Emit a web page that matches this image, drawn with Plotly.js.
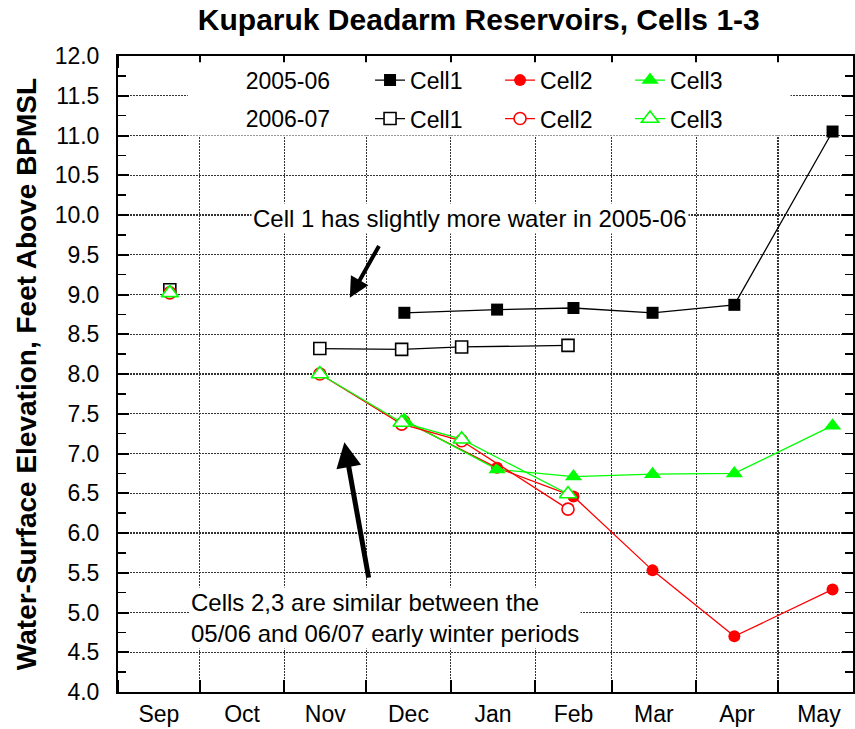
<!DOCTYPE html>
<html>
<head>
<meta charset="utf-8">
<script src="https://cdn.plot.ly/plotly-3.0.1.min.js"></script>
<style>html,body{margin:0;padding:0;background:#fff}#chart{width:855px;height:729px}</style>
</head>
<body>
<div id="chart"></div>
<script>
// ---- data ----
// 2005-06 season sampling dates
const dates0506 = ['2005-12-15', '2006-01-18', '2006-02-15', '2006-03-16', '2006-04-15', '2006-05-21'];
const cell1_0506 = [8.77, 8.81, 8.83, 8.77, 8.87, 11.05];
const cell2_0506 = [7.41, 6.82, 6.46, 5.53, 4.70, 5.29];
const cell3_0506 = [7.42, 6.80, 6.71, 6.74, 6.75, 7.35];

// 2006-07 season sampling dates (no October reading -> gap)
const dates0607 = ['2006-09-20', '2006-10-15', '2006-11-14', '2006-12-14', '2007-01-05', '2007-02-13'];
const cell1_0607 = [9.06, null, 8.32, 8.31, 8.34, 8.36];
const cell2_0607 = [9.02, null, 8.00, 7.37, 7.16, 6.30];
const cell3_0607 = [9.02, null, 8.00, 7.39, 7.18, 6.49];

const seasonLabels = ['2005-06', '2006-07'];
const cellNames = ['Cell1', 'Cell2', 'Cell3'];
const monthAxisRange = ['2005-09-01', '2006-05-28 12:00'];

// overlay the 2006-07 season on the Sep-May axis of 2005-06
function overlay(d) { return (parseInt(d.slice(0, 4), 10) - 1) + d.slice(4); }

const FONT = 'Arial, "Liberation Sans", sans-serif';
const BLACK = '#000000', RED = '#ff0000', GREEN = '#00ff00';

function tr(x, y, name, color, symbol, filled, legend) {
  return {
    type: 'scatter', mode: 'lines+markers', x: x, y: y, name: name,
    legend: legend, connectgaps: false,
    line: {color: color, width: 1.3},
    marker: {
      symbol: symbol, size: symbol.indexOf('triangle') === 0 ? 15 : 12,
      color: filled ? color : '#ffffff',
      line: {color: color, width: filled ? 0 : 1.6}
    }
  };
}
const x0607 = dates0607.map(overlay);
const data = [
  tr(dates0506, cell1_0506, cellNames[0], BLACK, 'square', true, 'legend'),
  tr(dates0506, cell2_0506, cellNames[1], RED, 'circle', true, 'legend'),
  tr(dates0506, cell3_0506, cellNames[2], GREEN, 'triangle-up', true, 'legend'),
  tr(x0607, cell1_0607, cellNames[0], BLACK, 'square', false, 'legend2'),
  tr(x0607, cell2_0607, cellNames[1], RED, 'circle', false, 'legend2'),
  tr(x0607, cell3_0607, cellNames[2], GREEN, 'triangle-up', false, 'legend2')
];

const PAD = '&nbsp;&nbsp;&nbsp;&nbsp;&nbsp;';
const legendCommon = {
  orientation: 'h', xanchor: 'left', yanchor: 'middle', x: 0.171,
  bgcolor: 'rgba(255,255,255,0)', borderwidth: 0,
  font: {family: FONT, size: 23, color: BLACK},
  entrywidth: 85, entrywidthmode: 'pixels', itemwidth: 30,
  tracegroupgap: 0
};

const GRID = {showgrid: true, gridcolor: '#333333', gridwidth: 1.2, griddash: '2px,1px'};

const layout = {
  width: 855, height: 729,
  margin: {l: 118, r: 2, t: 56, b: 37, pad: 0},
  paper_bgcolor: '#ffffff', plot_bgcolor: '#ffffff',
  font: {family: FONT, size: 23, color: BLACK},
  showlegend: true,
  title: {
    text: 'Kuparuk Deadarm Reservoirs, Cells 1-3',
    font: {family: FONT, size: 30, weight: 'bold', color: BLACK},
    xref: 'container', x: 0.56, xanchor: 'center',
    yref: 'container', y: 0.973, yanchor: 'middle'
  },
  xaxis: Object.assign({
    type: 'date', range: monthAxisRange, autorange: false,
    tick0: '2005-09-01', dtick: 'M1', tickformat: '%b', ticklabelmode: 'period',
    ticks: 'inside', ticklen: 12, tickwidth: 2, tickcolor: BLACK,
    showline: true, linewidth: 2, linecolor: BLACK, mirror: 'ticks',
    zeroline: false, ticklabelstandoff: 0,
    tickfont: {family: FONT, size: 23, color: BLACK}
  }, GRID),
  yaxis: Object.assign({
    range: [4, 12], autorange: false, tick0: 4, dtick: 0.5, tickformat: '.1f',
    ticks: 'inside', ticklen: 11, tickwidth: 2, tickcolor: BLACK,
    showline: true, linewidth: 2, linecolor: BLACK, mirror: 'ticks',
    zeroline: false, ticklabelstandoff: 12,
    minor: {dtick: 0.25, ticks: 'inside', ticklen: 8, tickwidth: 1.5, tickcolor: BLACK, showgrid: false},
    tickfont: {family: FONT, size: 23, color: BLACK},
    title: {
      text: 'Water-Surface Elevation, Feet Above BPMSL',
      font: {family: FONT, size: 28, weight: 'bold', color: BLACK},
      standoff: 10
    }
  }, GRID),
  legend: Object.assign({}, legendCommon, {y: 0.962, title: {text: seasonLabels[0] + PAD, side: 'left', font: {family: FONT, size: 23}}}),
  legend2: Object.assign({}, legendCommon, {y: 0.9016, title: {text: seasonLabels[1] + PAD, side: 'left', font: {family: FONT, size: 23}}}),
  shapes: [{
    type: 'rect', xref: 'paper', yref: 'paper', layer: 'above',
    x0: 0.095, x1: 0.915, y0: 0.875, y1: 0.99,
    fillcolor: '#ffffff', line: {width: 0}
  }],
  annotations: [
    {
      text: 'Cell 1 has slightly more water in 2005-06',
      xref: 'x', yref: 'y', x: '2006-01-08', y: 9.95,
      showarrow: false, bgcolor: '#ffffff', borderpad: 1,
      font: {family: FONT, size: 24, color: BLACK}
    },
    {
      text: 'Cells 2,3 are similar between the<br>05/06 and 06/07 early winter periods',
      xref: 'x', yref: 'y', x: '2005-09-27', y: 4.93,
      xanchor: 'left', align: 'left', showarrow: false, bgcolor: '#ffffff', borderpad: 1,
      font: {family: FONT, size: 24, color: BLACK}
    },
    {
      text: '', xref: 'x', yref: 'y', axref: 'x', ayref: 'y',
      x: '2005-11-25', y: 8.96, ax: '2005-12-06', ay: 9.63,
      showarrow: true, arrowhead: 2, arrowsize: 1, arrowwidth: 4, arrowcolor: BLACK, standoff: 0
    },
    {
      text: '', xref: 'x', yref: 'y', axref: 'x', ayref: 'y',
      x: '2005-11-23', y: 7.14, ax: '2005-12-02', ay: 5.42,
      showarrow: true, arrowhead: 2, arrowsize: 1, arrowwidth: 5, arrowcolor: BLACK, standoff: 0
    }
  ]
};

Plotly.newPlot('chart', data, layout, {displayModeBar: false, staticPlot: true});
</script>
</body>
</html>
